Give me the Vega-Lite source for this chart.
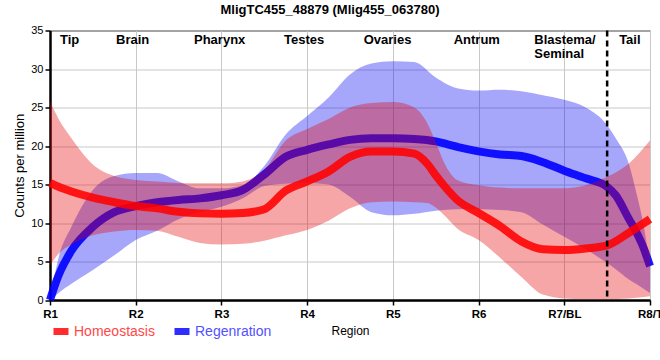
{
  "$schema": "https://vega.github.io/schema/vega-lite/v6.json",
  "width": 600,
  "height": 269.5,
  "autosize": {"type": "none"},
  "padding": {"left": 50, "top": 30.5, "right": 10, "bottom": 60},
  "background": "white",
  "title": {"text": "MligTC455_48879 (Mlig455_063780)", "anchor": "middle", "frame": "group", "dx": -20, "offset": 8, "fontSize": 13, "fontWeight": "bold", "font": "Liberation Sans", "color": "black"},
  "datasets": {
    "bands": [
      {"x": 1, "series": "Homeostasis", "mean": 15.2, "lo": 4.5, "hi": 25.8},
      {"x": 1.1, "series": "Homeostasis", "mean": 14.7, "lo": 6.0, "hi": 23.5},
      {"x": 1.25, "series": "Homeostasis", "mean": 14.1, "lo": 7.2, "hi": 21.0},
      {"x": 1.5, "series": "Homeostasis", "mean": 13.3, "lo": 8.4, "hi": 17.6},
      {"x": 1.75, "series": "Homeostasis", "mean": 12.7, "lo": 8.9, "hi": 16.1},
      {"x": 2, "series": "Homeostasis", "mean": 12.2, "lo": 9.1, "hi": 15.6},
      {"x": 2.25, "series": "Homeostasis", "mean": 11.9, "lo": 9.0, "hi": 15.4},
      {"x": 2.5, "series": "Homeostasis", "mean": 11.45, "lo": 8.2, "hi": 15.2},
      {"x": 2.75, "series": "Homeostasis", "mean": 11.25, "lo": 7.4, "hi": 15.15},
      {"x": 3, "series": "Homeostasis", "mean": 11.2, "lo": 7.2, "hi": 15.15},
      {"x": 3.25, "series": "Homeostasis", "mean": 11.3, "lo": 7.3, "hi": 15.4},
      {"x": 3.5, "series": "Homeostasis", "mean": 11.8, "lo": 7.7, "hi": 16.9},
      {"x": 3.75, "series": "Homeostasis", "mean": 14.2, "lo": 8.4, "hi": 20.7},
      {"x": 4, "series": "Homeostasis", "mean": 15.4, "lo": 9.1, "hi": 22.2},
      {"x": 4.25, "series": "Homeostasis", "mean": 16.7, "lo": 10.3, "hi": 23.5},
      {"x": 4.5, "series": "Homeostasis", "mean": 18.6, "lo": 11.9, "hi": 25.0},
      {"x": 4.75, "series": "Homeostasis", "mean": 19.3, "lo": 12.7, "hi": 25.6},
      {"x": 5, "series": "Homeostasis", "mean": 19.3, "lo": 12.8, "hi": 25.7},
      {"x": 5.25, "series": "Homeostasis", "mean": 19.0, "lo": 12.7, "hi": 25.0},
      {"x": 5.4, "series": "Homeostasis", "mean": 17.7, "lo": 12.6, "hi": 23.0},
      {"x": 5.5, "series": "Homeostasis", "mean": 16.2, "lo": 12.0, "hi": 20.5},
      {"x": 5.6, "series": "Homeostasis", "mean": 14.8, "lo": 11.0, "hi": 17.8},
      {"x": 5.75, "series": "Homeostasis", "mean": 13.0, "lo": 9.3, "hi": 15.6},
      {"x": 6, "series": "Homeostasis", "mean": 11.3, "lo": 7.8, "hi": 14.9},
      {"x": 6.25, "series": "Homeostasis", "mean": 9.6, "lo": 5.5, "hi": 14.6},
      {"x": 6.5, "series": "Homeostasis", "mean": 7.6, "lo": 3.0, "hi": 14.5},
      {"x": 6.75, "series": "Homeostasis", "mean": 6.6, "lo": 0.7, "hi": 14.5},
      {"x": 7, "series": "Homeostasis", "mean": 6.5, "lo": 0.2, "hi": 14.5},
      {"x": 7.25, "series": "Homeostasis", "mean": 6.7, "lo": 0.1, "hi": 14.9},
      {"x": 7.5, "series": "Homeostasis", "mean": 7.1, "lo": 0.1, "hi": 16.0},
      {"x": 7.75, "series": "Homeostasis", "mean": 8.7, "lo": 0.2, "hi": 17.7},
      {"x": 8, "series": "Homeostasis", "mean": 10.5, "lo": 0.5, "hi": 20.7},
      {"x": 1, "series": "Regenration", "mean": 0, "lo": 0, "hi": 0.3},
      {"x": 1.05, "series": "Regenration", "mean": 1.7, "lo": 0.4, "hi": 3.0},
      {"x": 1.1, "series": "Regenration", "mean": 3.2, "lo": 0.9, "hi": 5.5},
      {"x": 1.25, "series": "Regenration", "mean": 6.4, "lo": 2.1, "hi": 9.5},
      {"x": 1.5, "series": "Regenration", "mean": 9.5, "lo": 3.9, "hi": 14.3},
      {"x": 1.75, "series": "Regenration", "mean": 11.4, "lo": 5.8, "hi": 16.1},
      {"x": 2, "series": "Regenration", "mean": 12.2, "lo": 7.8, "hi": 16.5},
      {"x": 2.25, "series": "Regenration", "mean": 12.7, "lo": 9.0, "hi": 16.5},
      {"x": 2.5, "series": "Regenration", "mean": 13.0, "lo": 10.5, "hi": 15.4},
      {"x": 2.75, "series": "Regenration", "mean": 13.2, "lo": 11.4, "hi": 14.5},
      {"x": 3, "series": "Regenration", "mean": 13.6, "lo": 12.1, "hi": 14.5},
      {"x": 3.25, "series": "Regenration", "mean": 14.3, "lo": 13.2, "hi": 14.9},
      {"x": 3.5, "series": "Regenration", "mean": 16.3, "lo": 14.8, "hi": 17.4},
      {"x": 3.75, "series": "Regenration", "mean": 18.6, "lo": 15.1, "hi": 21.5},
      {"x": 4, "series": "Regenration", "mean": 19.5, "lo": 15.2, "hi": 23.9},
      {"x": 4.25, "series": "Regenration", "mean": 20.2, "lo": 15.0, "hi": 26.3},
      {"x": 4.5, "series": "Regenration", "mean": 20.8, "lo": 13.4, "hi": 29.3},
      {"x": 4.75, "series": "Regenration", "mean": 21.0, "lo": 11.4, "hi": 30.7},
      {"x": 5, "series": "Regenration", "mean": 21.0, "lo": 11.0, "hi": 31.0},
      {"x": 5.25, "series": "Regenration", "mean": 20.9, "lo": 11.2, "hi": 30.9},
      {"x": 5.5, "series": "Regenration", "mean": 20.6, "lo": 11.6, "hi": 28.9},
      {"x": 5.75, "series": "Regenration", "mean": 19.9, "lo": 11.8, "hi": 27.5},
      {"x": 6, "series": "Regenration", "mean": 19.3, "lo": 11.8, "hi": 27.2},
      {"x": 6.25, "series": "Regenration", "mean": 18.9, "lo": 11.7, "hi": 27.3},
      {"x": 6.5, "series": "Regenration", "mean": 18.7, "lo": 11.4, "hi": 27.1},
      {"x": 6.75, "series": "Regenration", "mean": 17.9, "lo": 9.8, "hi": 26.6},
      {"x": 7, "series": "Regenration", "mean": 16.8, "lo": 8.2, "hi": 26.0},
      {"x": 7.25, "series": "Regenration", "mean": 15.8, "lo": 6.6, "hi": 25.0},
      {"x": 7.5, "series": "Regenration", "mean": 14.7, "lo": 4.8, "hi": 22.7},
      {"x": 7.6, "series": "Regenration", "mean": 13.6, "lo": 4.0, "hi": 21.0},
      {"x": 7.75, "series": "Regenration", "mean": 10.6, "lo": 2.7, "hi": 17.8},
      {"x": 7.85, "series": "Regenration", "mean": 8.6, "lo": 2.0, "hi": 13.5},
      {"x": 7.92, "series": "Regenration", "mean": 6.9, "lo": 1.5, "hi": 10.0},
      {"x": 8, "series": "Regenration", "mean": 4.4, "lo": 0.9, "hi": 4.6}
    ],
    "regions": [
      {"x": 1.117, "label": "Tip"},
      {"x": 1.77, "label": "Brain"},
      {"x": 2.68, "label": "Pharynx"},
      {"x": 3.73, "label": "Testes"},
      {"x": 4.66, "label": "Ovaries"},
      {"x": 5.71, "label": "Antrum"},
      {"x": 6.65, "label": "Blastema/\nSeminal"},
      {"x": 7.64, "label": "Tail"}
    ],
    "divider": [{"x": 7.5}]
  },
  "encoding": {
    "x": {
      "field": "x", "type": "quantitative",
      "scale": {"domain": [1, 8], "nice": false, "zero": false},
      "axis": {
        "title": "Region", "values": [1, 2, 3, 4, 5, 6, 7, 8], "tickCount": 20,
        "labelExpr": "['R1','R2','R3','R4','R5','R6','R7/BL','R8/T'][datum.value - 1]",
        "labelFontWeight": "bold", "labelFontSize": 11.5, "labelPadding": 3,
        "labelBound": false, "labelFlush": false, "labelOverlap": false,
        "titleFontSize": 12, "titlePadding": 6, "titleX": 300
      }
    }
  },
  "layer": [
    {
      "data": {"name": "bands"},
      "transform": [{"filter": "datum.series === 'Regenration'"}],
      "mark": {"type": "area", "interpolate": "monotone", "opacity": 0.35, "color": "#0000f4"},
      "encoding": {
        "y": {
          "field": "lo", "type": "quantitative",
          "scale": {"domain": [0, 35], "nice": false},
          "axis": {"title": "Counts per million", "values": [0, 5, 10, 15, 20, 25, 30, 35], "tickCount": 20, "labelOverlap": false, "labelFontSize": 11, "titleFontSize": 13, "titlePadding": 4, "labelPadding": 2}
        },
        "y2": {"field": "hi"}
      }
    },
    {
      "data": {"name": "bands"},
      "transform": [{"filter": "datum.series === 'Regenration'"}],
      "mark": {"type": "line", "interpolate": "monotone", "strokeWidth": 8, "opacity": 0.9},
      "encoding": {
        "y": {
          "field": "mean", "type": "quantitative",
          "axis": {"title": "Counts per million", "values": [0, 5, 10, 15, 20, 25, 30, 35], "tickCount": 20, "labelOverlap": false, "labelFontSize": 11, "titleFontSize": 13, "titlePadding": 4, "labelPadding": 2}
        },
        "color": {
          "field": "series", "type": "nominal",
          "scale": {"domain": ["Homeostasis", "Regenration"], "range": ["#ff0000", "#0000ff"]},
          "legend": {
            "orient": "none", "legendX": 0, "legendY": 290, "direction": "horizontal", "title": null,
            "symbolType": "stroke", "symbolSize": 225, "symbolStrokeWidth": 7, "symbolOpacity": 0.82,
            "labelFontSize": 14, "labelFont": "Liberation Sans", "columnPadding": 5, "labelOffset": 2,
            "encode": {
              "labels": {"update": {"fill": {"signal": "datum.value === 'Homeostasis' ? '#ff4848' : '#5252ff'"}}}
            }
          }
        }
      }
    },
    {
      "data": {"name": "bands"},
      "transform": [{"filter": "datum.series === 'Homeostasis'"}],
      "mark": {"type": "area", "interpolate": "monotone", "opacity": 0.35, "color": "#e40000"},
      "encoding": {
        "y": {
          "field": "lo", "type": "quantitative",
          "axis": {"title": "Counts per million", "values": [0, 5, 10, 15, 20, 25, 30, 35], "tickCount": 20, "labelOverlap": false, "labelFontSize": 11, "titleFontSize": 13, "titlePadding": 4, "labelPadding": 2}
        },
        "y2": {"field": "hi"}
      }
    },
    {
      "data": {"name": "bands"},
      "transform": [{"filter": "datum.series === 'Homeostasis'"}],
      "mark": {"type": "line", "interpolate": "monotone", "strokeWidth": 8, "opacity": 0.88},
      "encoding": {
        "y": {
          "field": "mean", "type": "quantitative",
          "axis": {"title": "Counts per million", "values": [0, 5, 10, 15, 20, 25, 30, 35], "tickCount": 20, "labelOverlap": false, "labelFontSize": 11, "titleFontSize": 13, "titlePadding": 4, "labelPadding": 2}
        },
        "color": {
          "field": "series", "type": "nominal",
          "legend": {
            "orient": "none", "legendX": 0, "legendY": 290, "direction": "horizontal", "title": null,
            "symbolType": "stroke", "symbolSize": 225, "symbolStrokeWidth": 7, "symbolOpacity": 0.82,
            "labelFontSize": 14, "labelFont": "Liberation Sans", "columnPadding": 5, "labelOffset": 2,
            "encode": {
              "labels": {"update": {"fill": {"signal": "datum.value === 'Homeostasis' ? '#ff4848' : '#5252ff'"}}}
            }
          }
        }
      }
    },
    {
      "data": {"name": "divider"},
      "mark": {"type": "rule", "color": "black", "strokeWidth": 2.5, "strokeDash": [6, 4]},
      "encoding": {}
    },
    {
      "data": {"name": "regions"},
      "mark": {"type": "text", "align": "left", "baseline": "alphabetic", "fontSize": 13, "fontWeight": "bold", "font": "Liberation Sans", "color": "black", "lineBreak": "\n", "lineHeight": 14},
      "encoding": {
        "y": {
          "datum": 33.2, "type": "quantitative",
          "axis": {"title": "Counts per million", "values": [0, 5, 10, 15, 20, 25, 30, 35], "tickCount": 20, "labelOverlap": false, "labelFontSize": 11, "titleFontSize": 13, "titlePadding": 4, "labelPadding": 2}
        },
        "text": {"field": "label", "type": "nominal"}
      }
    }
  ],
  "resolve": {"scale": {"color": "shared"}},
  "config": {
    "font": "Liberation Sans",
    "view": {"stroke": "black", "strokeWidth": 1},
    "axis": {"gridColor": "#c8c8c8", "gridWidth": 1, "gridOpacity": 1, "domainColor": "black", "domainWidth": 2.5, "tickColor": "black", "tickWidth": 1.5, "tickSize": 5, "labelColor": "black", "titleColor": "black", "labelFont": "Liberation Sans", "titleFont": "Liberation Sans", "titleFontWeight": "normal"}
  }
}
